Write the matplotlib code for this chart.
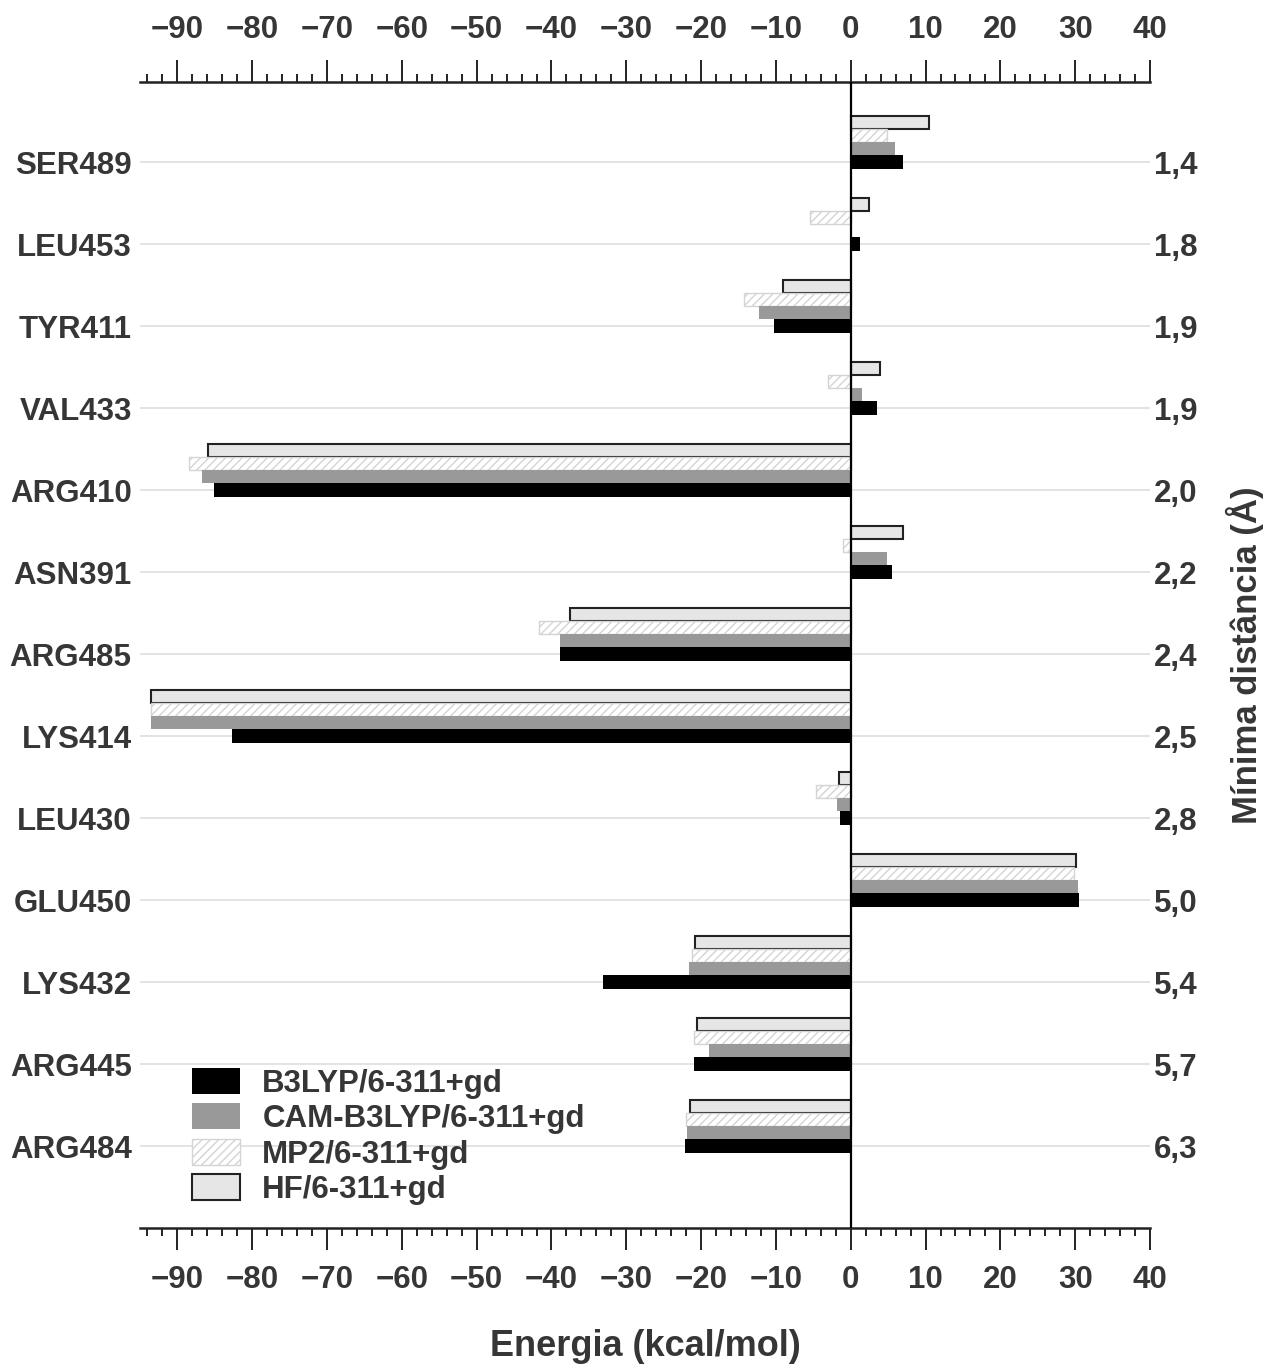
import matplotlib
matplotlib.use("Agg")
import matplotlib.pyplot as plt
import numpy as np
from matplotlib.patches import Patch
from matplotlib.ticker import MultipleLocator

plt.rcParams['font.family'] = ['Liberation Sans', 'DejaVu Sans']
plt.rcParams['font.weight'] = 'bold'
plt.rcParams['axes.labelweight'] = 'bold'
plt.rcParams['hatch.linewidth'] = 1.0

residues = ["SER489", "LEU453", "TYR411", "VAL433", "ARG410", "ASN391", "ARG485",
            "LYS414", "LEU430", "GLU450", "LYS432", "ARG445", "ARG484"]
distances = ["1,4", "1,8", "1,9", "1,9", "2,0", "2,2", "2,4",
             "2,5", "2,8", "5,0", "5,4", "5,7", "6,3"]

b3lyp = [7.0, 1.3, -10.3, 3.5, -85.1, 5.5, -38.9, -82.7, -1.5, 30.5, -33.1, -20.9, -22.1]
cam_b3lyp = [5.9, 0.0, -12.3, 1.5, -86.7, 4.8, -38.8, -93.5, -1.9, 30.4, -21.6, -18.9, -21.9]
mp2 = [4.8, -5.4, -14.3, -3.1, -88.5, -1.0, -41.7, -93.5, -4.7, 29.9, -21.2, -20.9, -22.0]
hf = [10.4, 2.5, -9.1, 3.9, -85.9, 7.0, -37.5, -93.5, -1.6, 30.1, -20.8, -20.5, -21.5]

series_labels = ["B3LYP/6-311+gd", "CAM-B3LYP/6-311+gd", "MP2/6-311+gd", "HF/6-311+gd"]

txt = '#363636'

fig = plt.figure(figsize=(12.67, 13.66), dpi=100)
ax = fig.add_axes([140/1267, 1 - 1228/1366, (1150-140)/1267, (1228-82)/1366])

y = np.arange(len(residues))
h = 0.16

for yy in y:
    ax.axhline(yy, color='#e0e0e0', lw=1.3, zorder=0)

ax.barh(y - 3*h, hf, height=h, color='#e6e6e6', edgecolor='#222222', linewidth=1.5, zorder=2)
ax.barh(y - 2*h, mp2, height=h, color='white', edgecolor='#d4d4d4', hatch='////', linewidth=1.0, zorder=2)
ax.barh(y - 1*h, cam_b3lyp, height=h, color='#999999', edgecolor='none', zorder=2)
ax.barh(y, b3lyp, height=h, color='black', edgecolor='none', zorder=2)

ax.axvline(0, color='black', lw=1.6, zorder=3)

ax.set_xlim(-95, 40)
ax.set_ylim(13.0, -0.976)

ax.xaxis.set_major_locator(MultipleLocator(10))
ax.xaxis.set_minor_locator(MultipleLocator(2))
ax.tick_params(axis='x', which='both', top=True, bottom=True, labeltop=True, labelbottom=True,
               direction='out', colors='#222222', labelcolor=txt, labelsize=22.5)
ax.tick_params(axis='x', which='major', length=16, width=1.4, pad=11)
ax.tick_params(axis='x', which='minor', length=6, width=1.4)
ax.set_xticks(np.arange(-90, 41, 10))
ax.set_xticklabels([f"\u2212{abs(v)}" if v < 0 else f"{v}" for v in range(-90, 41, 10)])
for lab in ax.xaxis.get_majorticklabels():
    lab.set_fontweight('bold')

ax.set_yticks(y)
ax.set_yticklabels(residues)
ax.tick_params(axis='y', length=0, pad=6, labelsize=22.5, labelcolor=txt)

for s in ['left', 'right']:
    ax.spines[s].set_visible(False)
for s in ['top', 'bottom']:
    ax.spines[s].set_linewidth(1.8)
    ax.spines[s].set_color('#222222')

ax.set_xlabel("Energia (kcal/mol)", fontsize=26, color=txt, labelpad=24, fontweight='bold')

ax2 = ax.twinx()
ax2.set_ylim(ax.get_ylim())
ax2.set_yticks(y)
ax2.set_yticklabels(distances)
ax2.tick_params(axis='y', length=0, pad=3, labelsize=22.5, labelcolor=txt)
for s in ax2.spines.values():
    s.set_visible(False)
ax2.set_ylabel("Mínima distância (Å)", fontsize=25, color=txt, labelpad=20, fontweight='bold')

handles = [
    Patch(facecolor='black', edgecolor='none'),
    Patch(facecolor='#999999', edgecolor='none'),
    Patch(facecolor='white', edgecolor='#d4d4d4', hatch='////'),
    Patch(facecolor='#e6e6e6', edgecolor='#222222', linewidth=1.5),
]
fig.legend(handles, series_labels, loc='upper left', bbox_to_anchor=(192/1267, 1 - 1068/1366),
           frameon=False, prop={'size': 22.5, 'weight': 'bold'}, handlelength=1.55, handleheight=0.9,
           handletextpad=0.7, labelspacing=0.15, borderpad=0, borderaxespad=0,
           labelcolor=txt)

fig.savefig("out.png", dpi=100)
